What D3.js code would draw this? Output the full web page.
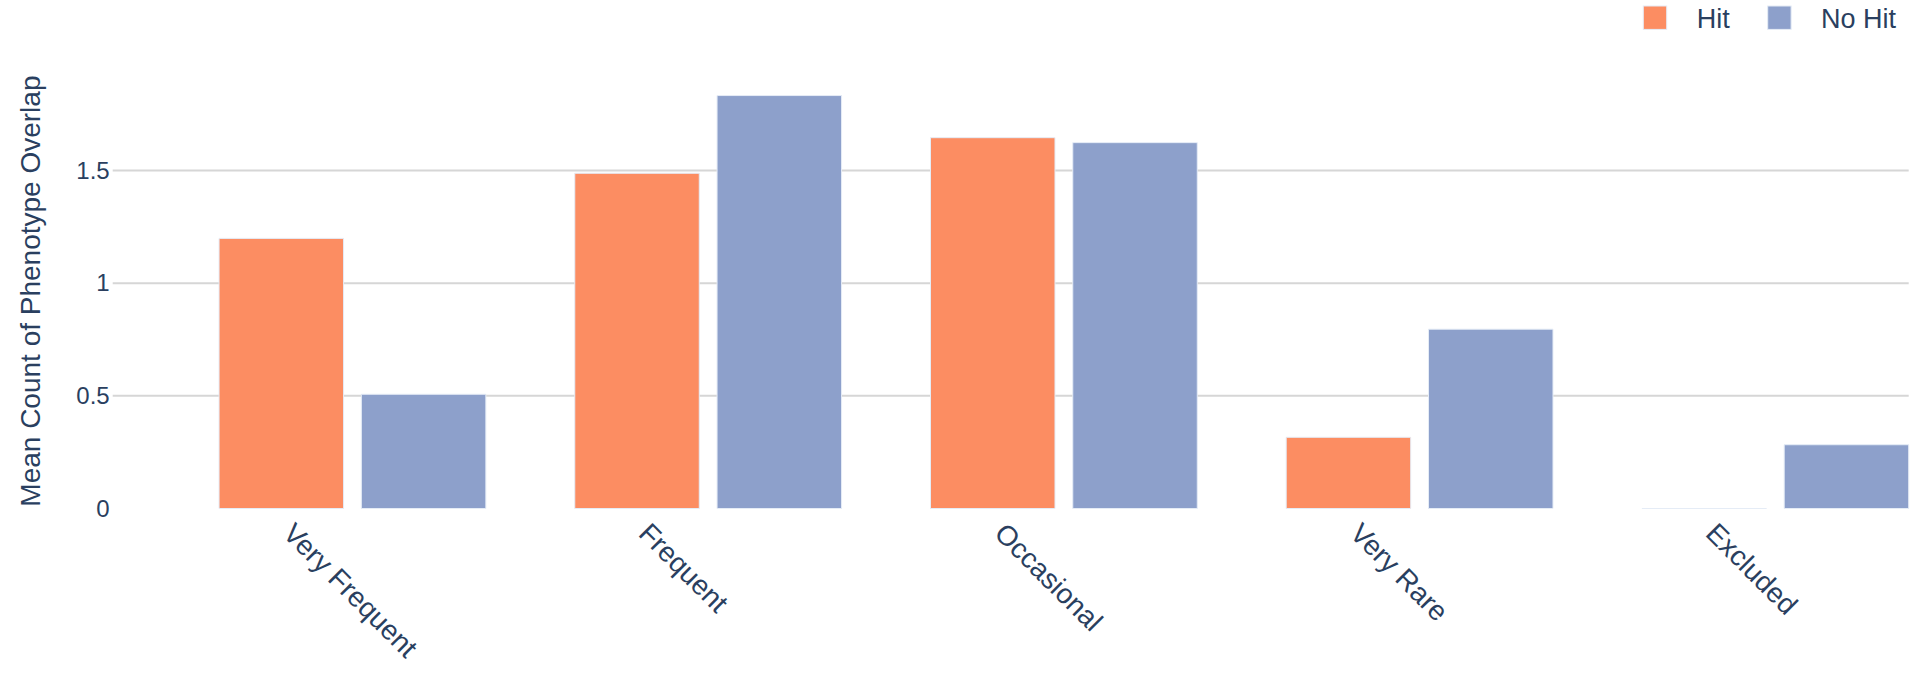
<!DOCTYPE html>
<html>
<head>
<meta charset="utf-8">
<script src="https://cdn.jsdelivr.net/npm/d3@7"></script>
<style>
  html, body { margin: 0; padding: 0; background: #fff; }
  svg { display: block; }
  text { font-family: "Liberation Sans", Arial, sans-serif; fill: #2a3f5f; }
</style>
</head>
<body>
<svg id="chart" width="1912" height="674"></svg>
<script>
const categories = ["Very Frequent", "Frequent", "Occasional", "Very Rare", "Excluded"];
const hitValues = [1.199, 1.488, 1.646, 0.316, 0];
const noHitValues = [0.507, 1.833, 1.624, 0.796, 0.283];
const seriesNames = ["Hit", "No Hit"];
const seriesColors = ["#FC8D62", "#8DA0CB"];
const yTicks = [0, 0.5, 1, 1.5];
const yTitle = "Mean Count of Phenotype Overlap";

const svg = d3.select("#chart");
const plot = { left: 112.7, right: 1908.7, top: 73.7, bottom: 508.5 };

const x = d3.scaleLinear().domain([-0.674, 4.375]).range([plot.left, plot.right]);
const y = d3.scaleLinear().domain([0, 1.93]).range([plot.bottom, plot.top]);

// gridlines
svg.append("g").selectAll("line")
  .data(yTicks.filter(t => t !== 0))
  .join("line")
  .attr("x1", plot.left).attr("x2", plot.right)
  .attr("y1", d => y(d)).attr("y2", d => y(d))
  .attr("stroke", "#D6D6D6").attr("stroke-width", 2);

// y axis labels via d3 axis
const yAxis = d3.axisLeft(y).tickValues(yTicks).tickFormat(d3.format("~g")).tickSize(0).tickPadding(3);
const yg = svg.append("g").attr("transform", `translate(${plot.left},0)`).call(yAxis);
yg.select(".domain").remove();
yg.selectAll("text").style("font-size", "24px").attr("fill", "#2a3f5f")
  .style("font-family", '"Liberation Sans", Arial, sans-serif');

// y title
svg.append("text")
  .attr("transform", `translate(40,${(plot.top + plot.bottom) / 2}) rotate(-90)`)
  .attr("text-anchor", "middle")
  .style("font-size", "28px")
  .text(yTitle);

// bars
const series = [hitValues, noHitValues];
const offsets = [[-0.375, -0.025], [0.025, 0.375]];
series.forEach((vals, si) => {
  svg.append("g").selectAll("path")
    .data(vals.map((v, i) => ({ v, i })))
    .join("path")
    .attr("d", d => {
      const x0 = x(d.i + offsets[si][0]), x1 = x(d.i + offsets[si][1]);
      const y0 = y(0), y1 = y(d.v);
      return `M${x0},${y0}L${x0},${y1}L${x1},${y1}L${x1},${y0}Z`;
    })
    .attr("fill", seriesColors[si])
    .attr("stroke", "#E5ECF6")
    .attr("stroke-width", 1);
});

// x labels
svg.append("g").selectAll("text")
  .data(categories)
  .join("text")
  .attr("transform", (d, i) => `translate(${x(i) - 71},535) rotate(45)`)
  .attr("text-anchor", "start")
  .style("font-size", "28px")
  .text(d => d);

// legend
const legendItems = [
  { name: seriesNames[0], color: seriesColors[0], sx: 1643.3, tx: 1696.7 },
  { name: seriesNames[1], color: seriesColors[1], sx: 1767.7, tx: 1821 }
];
const lg = svg.append("g");
legendItems.forEach(it => {
  lg.append("rect").attr("x", it.sx).attr("y", 6).attr("width", 23.4).attr("height", 23.4)
    .attr("fill", it.color).attr("stroke", "#E5ECF6").attr("stroke-width", 1);
  lg.append("text").attr("x", it.tx).attr("y", 28).style("font-size", "27px").text(it.name);
});
</script>
</body>
</html>
